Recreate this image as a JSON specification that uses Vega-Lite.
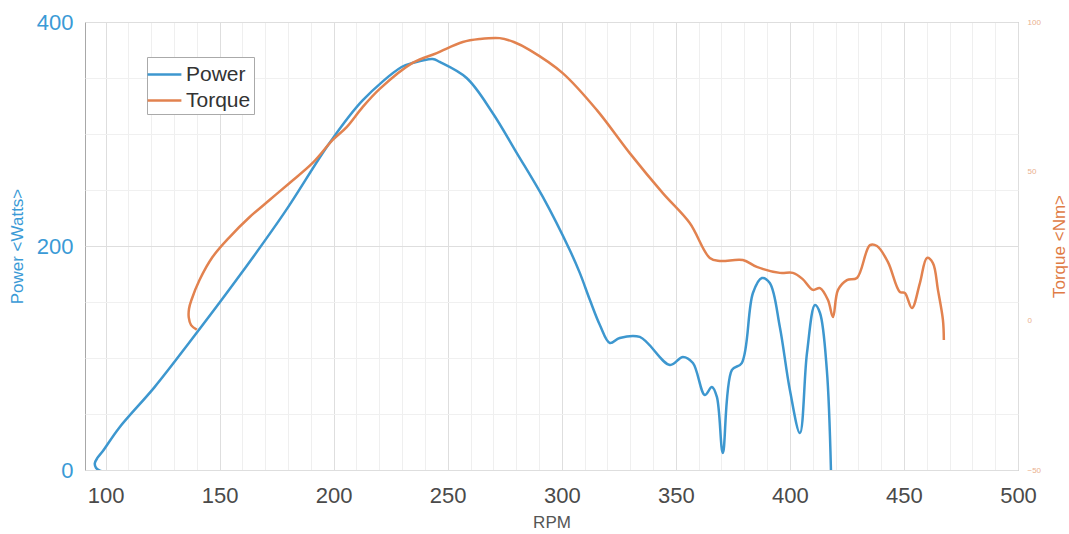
{
  "$schema": "https://vega.github.io/schema/vega-lite/v6.json",
  "width": 933,
  "height": 448,
  "autosize": "none",
  "padding": {"left": 85, "top": 22, "right": 51, "bottom": 64},
  "background": "white",
  "config": {
    "font": "Liberation Sans",
    "view": {"stroke": "#a8a8a8", "strokeWidth": 1}
  },
  "data": {
    "values": [
      {"series": "Power", "i": 1, "rpm": 100.5, "value": -2},
      {"series": "Power", "i": 2, "rpm": 97.5, "value": -0.5},
      {"series": "Power", "i": 3, "rpm": 95.8, "value": 2},
      {"series": "Power", "i": 4, "rpm": 95.3, "value": 6},
      {"series": "Power", "i": 5, "rpm": 96.5, "value": 11},
      {"series": "Power", "i": 6, "rpm": 98.5, "value": 16},
      {"series": "Power", "i": 7, "rpm": 106.1, "value": 38},
      {"series": "Power", "i": 8, "rpm": 121.5, "value": 74},
      {"series": "Power", "i": 9, "rpm": 136.8, "value": 114},
      {"series": "Power", "i": 10, "rpm": 157.5, "value": 170},
      {"series": "Power", "i": 11, "rpm": 178.5, "value": 230},
      {"series": "Power", "i": 12, "rpm": 198.2, "value": 292},
      {"series": "Power", "i": 13, "rpm": 212.7, "value": 330},
      {"series": "Power", "i": 14, "rpm": 229.8, "value": 359.8},
      {"series": "Power", "i": 15, "rpm": 234.6, "value": 363.4},
      {"series": "Power", "i": 16, "rpm": 243.4, "value": 367},
      {"series": "Power", "i": 17, "rpm": 246.5, "value": 364.3},
      {"series": "Power", "i": 18, "rpm": 258.3, "value": 350},
      {"series": "Power", "i": 19, "rpm": 269.7, "value": 318.8},
      {"series": "Power", "i": 20, "rpm": 280.3, "value": 283},
      {"series": "Power", "i": 21, "rpm": 291.7, "value": 243.8},
      {"series": "Power", "i": 22, "rpm": 303.5, "value": 196.4},
      {"series": "Power", "i": 23, "rpm": 307.9, "value": 176},
      {"series": "Power", "i": 24, "rpm": 312.3, "value": 152},
      {"series": "Power", "i": 25, "rpm": 316.7, "value": 129.5},
      {"series": "Power", "i": 26, "rpm": 321.1, "value": 113.4},
      {"series": "Power", "i": 27, "rpm": 325.4, "value": 117.9},
      {"series": "Power", "i": 28, "rpm": 334.2, "value": 118.8},
      {"series": "Power", "i": 29, "rpm": 347.4, "value": 93.8},
      {"series": "Power", "i": 30, "rpm": 353.1, "value": 100.9},
      {"series": "Power", "i": 31, "rpm": 357.5, "value": 95.5},
      {"series": "Power", "i": 32, "rpm": 362.7, "value": 67},
      {"series": "Power", "i": 33, "rpm": 365.8, "value": 74.1},
      {"series": "Power", "i": 34, "rpm": 368, "value": 65.2},
      {"series": "Power", "i": 35, "rpm": 370.6, "value": 15.2},
      {"series": "Power", "i": 36, "rpm": 374.6, "value": 89.3},
      {"series": "Power", "i": 37, "rpm": 378.9, "value": 95.5},
      {"series": "Power", "i": 38, "rpm": 383.8, "value": 158},
      {"series": "Power", "i": 39, "rpm": 387.7, "value": 171.4},
      {"series": "Power", "i": 40, "rpm": 391.2, "value": 167},
      {"series": "Power", "i": 41, "rpm": 395.6, "value": 127.7},
      {"series": "Power", "i": 42, "rpm": 400, "value": 71.4},
      {"series": "Power", "i": 43, "rpm": 404.4, "value": 33},
      {"series": "Power", "i": 44, "rpm": 407.5, "value": 104.5},
      {"series": "Power", "i": 45, "rpm": 411, "value": 147.3},
      {"series": "Power", "i": 46, "rpm": 413.2, "value": 140.2},
      {"series": "Power", "i": 47, "rpm": 416.2, "value": 89.3},
      {"series": "Power", "i": 48, "rpm": 418, "value": 0},
      {"series": "Torque", "i": 1, "rpm": 140, "value": -3},
      {"series": "Torque", "i": 2, "rpm": 137.5, "value": -1.5},
      {"series": "Torque", "i": 3, "rpm": 136.5, "value": 1},
      {"series": "Torque", "i": 4, "rpm": 136.6, "value": 4},
      {"series": "Torque", "i": 5, "rpm": 137.7, "value": 7},
      {"series": "Torque", "i": 6, "rpm": 141.2, "value": 13.6},
      {"series": "Torque", "i": 7, "rpm": 146.9, "value": 21.3},
      {"series": "Torque", "i": 8, "rpm": 154.4, "value": 28},
      {"series": "Torque", "i": 9, "rpm": 163.2, "value": 34.7},
      {"series": "Torque", "i": 10, "rpm": 171.9, "value": 40.4},
      {"series": "Torque", "i": 11, "rpm": 180.7, "value": 46.1},
      {"series": "Torque", "i": 12, "rpm": 190.8, "value": 52.8},
      {"series": "Torque", "i": 13, "rpm": 199.6, "value": 60.5},
      {"series": "Torque", "i": 14, "rpm": 205.7, "value": 64.8},
      {"series": "Torque", "i": 15, "rpm": 212.7, "value": 71.5},
      {"series": "Torque", "i": 16, "rpm": 220.2, "value": 77.6},
      {"series": "Torque", "i": 17, "rpm": 234.6, "value": 86.3},
      {"series": "Torque", "i": 18, "rpm": 245.2, "value": 89.6},
      {"series": "Torque", "i": 19, "rpm": 256.6, "value": 93.3},
      {"series": "Torque", "i": 20, "rpm": 264, "value": 94.3},
      {"series": "Torque", "i": 21, "rpm": 272.8, "value": 94.6},
      {"series": "Torque", "i": 22, "rpm": 279, "value": 93.3},
      {"series": "Torque", "i": 23, "rpm": 286, "value": 90.6},
      {"series": "Torque", "i": 24, "rpm": 300.4, "value": 82.9},
      {"series": "Torque", "i": 25, "rpm": 315.4, "value": 70.5},
      {"series": "Torque", "i": 26, "rpm": 329.8, "value": 56.1},
      {"series": "Torque", "i": 27, "rpm": 344.3, "value": 42.7},
      {"series": "Torque", "i": 28, "rpm": 356.1, "value": 32.7},
      {"series": "Torque", "i": 29, "rpm": 364.9, "value": 21},
      {"series": "Torque", "i": 30, "rpm": 369.3, "value": 20},
      {"series": "Torque", "i": 31, "rpm": 379.4, "value": 20.3},
      {"series": "Torque", "i": 32, "rpm": 385.5, "value": 18},
      {"series": "Torque", "i": 33, "rpm": 395.6, "value": 16},
      {"series": "Torque", "i": 34, "rpm": 401.3, "value": 16},
      {"series": "Torque", "i": 35, "rpm": 405.5, "value": 14},
      {"series": "Torque", "i": 36, "rpm": 410.1, "value": 10.3},
      {"series": "Torque", "i": 37, "rpm": 413.2, "value": 10.9},
      {"series": "Torque", "i": 38, "rpm": 416.7, "value": 6.9},
      {"series": "Torque", "i": 39, "rpm": 418.9, "value": 1.2},
      {"series": "Torque", "i": 40, "rpm": 421.1, "value": 10.3},
      {"series": "Torque", "i": 41, "rpm": 425, "value": 13.6},
      {"series": "Torque", "i": 42, "rpm": 429.4, "value": 14.3},
      {"series": "Torque", "i": 43, "rpm": 435.1, "value": 25.3},
      {"series": "Torque", "i": 44, "rpm": 438.2, "value": 25},
      {"series": "Torque", "i": 45, "rpm": 443, "value": 19.6},
      {"series": "Torque", "i": 46, "rpm": 448.2, "value": 9.6},
      {"series": "Torque", "i": 47, "rpm": 450.4, "value": 9.3},
      {"series": "Torque", "i": 48, "rpm": 453.5, "value": 4.2},
      {"series": "Torque", "i": 49, "rpm": 457, "value": 12.6},
      {"series": "Torque", "i": 50, "rpm": 460.1, "value": 21},
      {"series": "Torque", "i": 51, "rpm": 462.7, "value": 19.3},
      {"series": "Torque", "i": 52, "rpm": 464.9, "value": 10.3},
      {"series": "Torque", "i": 53, "rpm": 467.1, "value": 0.2},
      {"series": "Torque", "i": 54, "rpm": 467.5, "value": -6.5}
    ]
  },
  "encoding": {
    "x": {
      "field": "rpm",
      "type": "quantitative",
      "scale": {"domain": [91, 500], "nice": false, "zero": false},
      "axis": {
        "values": [100,110,120,130,140,150,160,170,180,190,200,210,220,230,240,250,260,270,280,290,300,310,320,330,340,350,360,370,380,390,400,410,420,430,440,450,460,470,480,490,500],
        "labelExpr": "datum.value % 50 === 0 ? datum.label : ''",
        "labelOverlap": false,
        "labelFlush": false,
        "labelFontSize": 22,
        "labelColor": "#4a4a4a",
        "labelPadding": 15,
        "ticks": false,
        "domain": false,
        "grid": true,
        "gridColor": {"condition": {"test": "datum.value % 50 === 0", "value": "#dedede"}, "value": "#efefef"},
        "title": "RPM",
        "titleFontSize": 17,
        "titleFontWeight": "normal",
        "titleColor": "#555555",
        "titlePadding": 8
      }
    },
    "color": {
      "field": "series",
      "type": "nominal",
      "scale": {"domain": ["Power", "Torque"], "range": ["#3d97cf", "#e2824f"]},
      "legend": {
        "title": null,
        "orient": "none",
        "legendX": 62,
        "legendY": 35,
        "symbolType": "M-1.3,0H1.3",
        "symbolSize": 676,
        "symbolStrokeWidth": 2.5,
        "labelFontSize": 21,
        "labelColor": "#333333",
        "labelOffset": 7,
        "rowPadding": 1,
        "padding": 3,
        "strokeColor": "#aaaaaa",
        "fillColor": "white"
      }
    },
    "order": {"field": "i", "type": "quantitative"}
  },
  "layer": [
    {
      "transform": [{"filter": "datum.series === 'Power'"}],
      "mark": {"type": "line", "strokeWidth": 2.5, "clip": true, "interpolate": "catmull-rom"},
      "encoding": {
        "y": {
          "field": "value",
          "type": "quantitative",
          "scale": {"domain": [0, 400], "nice": false},
          "axis": {
            "orient": "left",
            "values": [0, 50, 100, 150, 200, 250, 300, 350, 400],
            "labelExpr": "datum.value % 200 === 0 ? datum.label : ''",
            "labelOverlap": false,
            "labelFlush": false,
            "labelFontSize": 22,
            "labelColor": "#3a9ad6",
            "labelPadding": 12,
            "ticks": false,
            "domain": false,
            "grid": true,
            "gridColor": {"condition": {"test": "datum.value % 200 === 0", "value": "#dedede"}, "value": "#f0f0f0"},
            "title": "Power <Watts>",
            "titleFontSize": 17,
            "titleFontWeight": "normal",
            "titleColor": "#3a9ad6",
            "titlePadding": 10
          }
        }
      }
    },
    {
      "transform": [{"filter": "datum.series === 'Torque'"}],
      "mark": {"type": "line", "strokeWidth": 2.5, "clip": true, "interpolate": "catmull-rom"},
      "encoding": {
        "y": {
          "field": "value",
          "type": "quantitative",
          "scale": {"domain": [-50, 100], "nice": false, "zero": false},
          "axis": {
            "orient": "right",
            "values": [-50, 0, 50, 100],
            "labelFontSize": 8,
            "labelColor": "#eab08e",
            "labelFlush": false,
            "labelOverlap": false,
            "labelPadding": 9,
            "ticks": false,
            "domain": false,
            "grid": false,
            "title": "Torque <Nm>",
            "titleAngle": 270,
            "titleFontSize": 17,
            "titleFontWeight": "normal",
            "titleColor": "#e07b45",
            "titlePadding": 28
          }
        }
      }
    }
  ],
  "resolve": {"scale": {"y": "independent"}, "axis": {"y": "independent"}}
}
